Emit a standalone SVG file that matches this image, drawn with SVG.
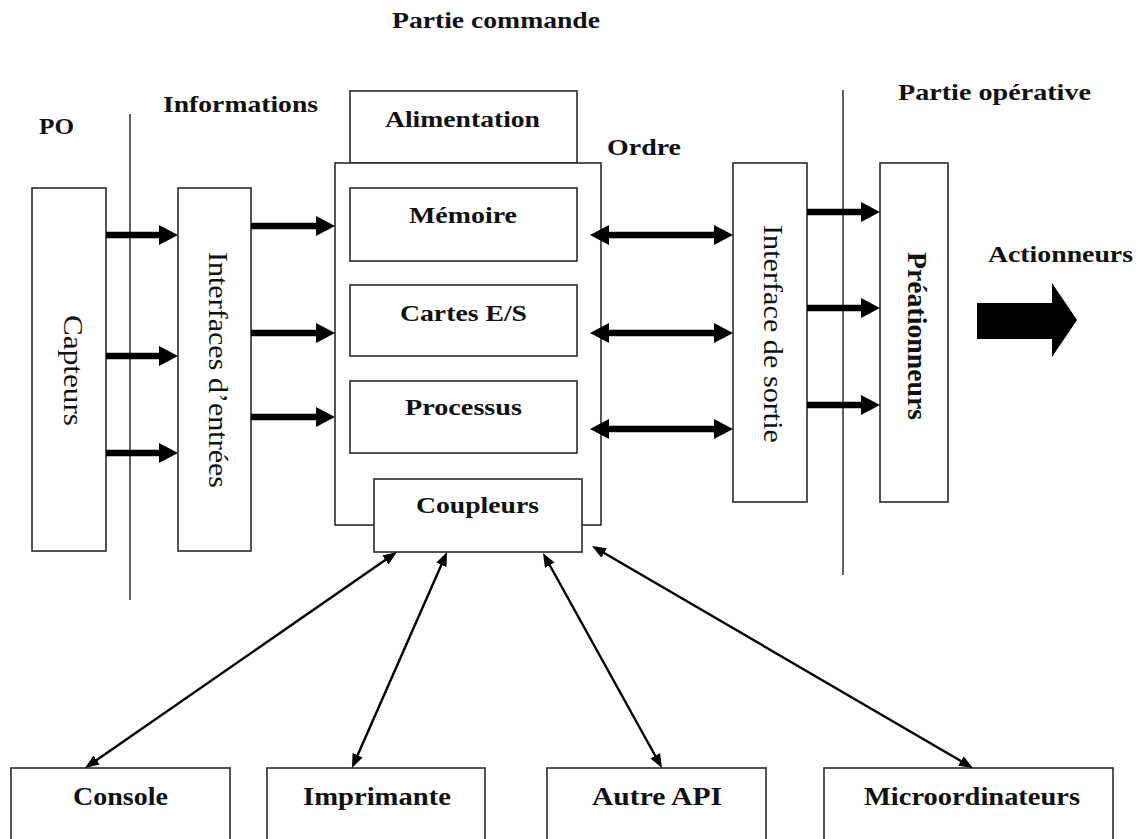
<svg xmlns="http://www.w3.org/2000/svg" width="1138" height="839" viewBox="0 0 1138 839">
  <defs>
    <style>
      .box { fill: #ffffff; stroke: #2a2a2a; stroke-width: 1.6; }
      .sep { stroke: #3a3a3a; stroke-width: 1.6; fill: none; }
      .lbl { font-family: "Liberation Serif", "Times New Roman", serif; font-weight: bold; font-size: 23px; fill: #111; }
      .big { font-size: 25px; }
      .vt { font-family: "Liberation Serif", "Times New Roman", serif; font-size: 27px; fill: #111; }
      .vtb { font-weight: bold; }
      .thick { stroke: #000; stroke-width: 6.5; fill: none; }
      .thin { stroke: #000; stroke-width: 2.4; fill: none; }
    </style>
    <marker id="headThick" markerUnits="userSpaceOnUse" viewBox="0 0 19 20" refX="1" refY="10" markerWidth="19" markerHeight="20" orient="auto-start-reverse">
      <path d="M0,0 L19,10 L0,20 Z" fill="#000"/>
    </marker>
    <marker id="headThin" markerUnits="userSpaceOnUse" viewBox="0 0 14 11" refX="2" refY="5.5" markerWidth="14" markerHeight="11" orient="auto-start-reverse">
      <path d="M0,0 L14,5.5 L0,11 Z" fill="#000"/>
    </marker>
  </defs>

  <rect width="1138" height="839" fill="#ffffff"/>

  <!-- section titles -->
  <g id="titles">
    <text class="lbl" x="392" y="28" textLength="208" lengthAdjust="spacingAndGlyphs">Partie commande</text>
    <text class="lbl" x="163" y="112" textLength="155" lengthAdjust="spacingAndGlyphs">Informations</text>
    <text class="lbl" x="39" y="134" textLength="35" lengthAdjust="spacingAndGlyphs">PO</text>
    <text class="lbl" x="607" y="155" textLength="74" lengthAdjust="spacingAndGlyphs">Ordre</text>
    <text class="lbl" x="898" y="100" textLength="193" lengthAdjust="spacingAndGlyphs">Partie opérative</text>
    <text class="lbl" x="988" y="262" textLength="145" lengthAdjust="spacingAndGlyphs">Actionneurs</text>
  </g>

  <!-- separators between the operative and command parts -->
  <g id="separators">
    <line class="sep" x1="130" y1="114" x2="130" y2="600"/>
    <line class="sep" x1="843" y1="90" x2="843" y2="575"/>
  </g>

  <g id="capteurs">
    <rect class="box" x="32" y="188" width="74" height="363"/>
    <text class="vt" transform="translate(64,315) rotate(90)" textLength="111" lengthAdjust="spacingAndGlyphs">Capteurs</text>
  </g>

  <g id="interfaces-entrees">
    <rect class="box" x="178" y="188" width="73" height="363"/>
    <text class="vt" transform="translate(208.5,252) rotate(90)" textLength="236" lengthAdjust="spacingAndGlyphs">Interfaces d’entrées</text>
  </g>

  <g id="alimentation">
    <rect class="box" x="350" y="91" width="227" height="72"/>
    <text class="lbl" x="385" y="127" textLength="155" lengthAdjust="spacingAndGlyphs">Alimentation</text>
  </g>

  <g id="automate">
    <rect class="box" x="335" y="163" width="266" height="362"/>
  </g>

  <g id="memoire">
    <rect class="box" x="350" y="188" width="227" height="73"/>
    <text class="lbl" x="409" y="223" textLength="108" lengthAdjust="spacingAndGlyphs">Mémoire</text>
  </g>

  <g id="cartes-es">
    <rect class="box" x="350" y="285" width="227" height="71"/>
    <text class="lbl" x="400" y="321" textLength="127" lengthAdjust="spacingAndGlyphs">Cartes E/S</text>
  </g>

  <g id="processus">
    <rect class="box" x="350" y="381" width="227" height="72"/>
    <text class="lbl" x="405" y="415" textLength="117" lengthAdjust="spacingAndGlyphs">Processus</text>
  </g>

  <g id="coupleurs">
    <rect class="box" x="374" y="479" width="208" height="73"/>
    <text class="lbl" x="416" y="513" textLength="123" lengthAdjust="spacingAndGlyphs">Coupleurs</text>
  </g>

  <g id="interface-sortie">
    <rect class="box" x="733" y="163" width="74" height="339"/>
    <text class="vt" transform="translate(763.5,225) rotate(90)" textLength="218" lengthAdjust="spacingAndGlyphs">Interface de sortie</text>
  </g>

  <g id="preactionneurs">
    <rect class="box" x="880" y="163" width="68" height="339"/>
    <text class="vt vtb" transform="translate(908,252) rotate(90)" textLength="168" lengthAdjust="spacingAndGlyphs">Préationneurs</text>
  </g>

  <g id="actionneurs">
    <polygon points="977,303 1052,303 1052,283 1077,320 1052,357 1052,339 977,339" fill="#000"/>
  </g>

  <g id="console">
    <rect class="box" x="11" y="768" width="219" height="80"/>
    <text class="lbl big" x="73" y="805" textLength="95" lengthAdjust="spacingAndGlyphs">Console</text>
  </g>

  <g id="imprimante">
    <rect class="box" x="267" y="768" width="218" height="80"/>
    <text class="lbl big" x="303" y="805" textLength="148" lengthAdjust="spacingAndGlyphs">Imprimante</text>
  </g>

  <g id="autre-api">
    <rect class="box" x="547" y="768" width="219" height="80"/>
    <text class="lbl big" x="592" y="805" textLength="130" lengthAdjust="spacingAndGlyphs">Autre API</text>
  </g>

  <g id="microordinateurs">
    <rect class="box" x="824" y="768" width="289" height="80"/>
    <text class="lbl big" x="864" y="805" textLength="216" lengthAdjust="spacingAndGlyphs">Microordinateurs</text>
  </g>

  <g id="connectors">
    <!-- sensors to input interfaces -->
    <line class="thick" x1="106" y1="235" x2="160" y2="235" marker-end="url(#headThick)"/>
    <line class="thick" x1="106" y1="356" x2="160" y2="356" marker-end="url(#headThick)"/>
    <line class="thick" x1="106" y1="453" x2="160" y2="453" marker-end="url(#headThick)"/>
    <!-- input interfaces to the controller -->
    <line class="thick" x1="251" y1="226" x2="317" y2="226" marker-end="url(#headThick)"/>
    <line class="thick" x1="251" y1="333" x2="317" y2="333" marker-end="url(#headThick)"/>
    <line class="thick" x1="251" y1="417" x2="317" y2="417" marker-end="url(#headThick)"/>
    <!-- controller to output interface, both ways -->
    <line class="thick" x1="608" y1="235" x2="715" y2="235" marker-start="url(#headThick)" marker-end="url(#headThick)"/>
    <line class="thick" x1="608" y1="333" x2="715" y2="333" marker-start="url(#headThick)" marker-end="url(#headThick)"/>
    <line class="thick" x1="608" y1="429" x2="715" y2="429" marker-start="url(#headThick)" marker-end="url(#headThick)"/>
    <!-- output interface to pre-actuators -->
    <line class="thick" x1="807" y1="212" x2="862" y2="212" marker-end="url(#headThick)"/>
    <line class="thick" x1="807" y1="308" x2="862" y2="308" marker-end="url(#headThick)"/>
    <line class="thick" x1="807" y1="405" x2="862" y2="405" marker-end="url(#headThick)"/>
    <!-- couplers to peripherals -->
    <line class="thin" x1="387.1" y1="558.8" x2="94.9" y2="761.2" marker-start="url(#headThin)" marker-end="url(#headThin)"/>
    <line class="thin" x1="442.2" y1="563.0" x2="356.8" y2="757.0" marker-start="url(#headThin)" marker-end="url(#headThin)"/>
    <line class="thin" x1="548.8" y1="563.5" x2="656.2" y2="757.5" marker-start="url(#headThin)" marker-end="url(#headThin)"/>
    <line class="thin" x1="602.4" y1="552.0" x2="962.6" y2="762.0" marker-start="url(#headThin)" marker-end="url(#headThin)"/>
  </g>
</svg>
